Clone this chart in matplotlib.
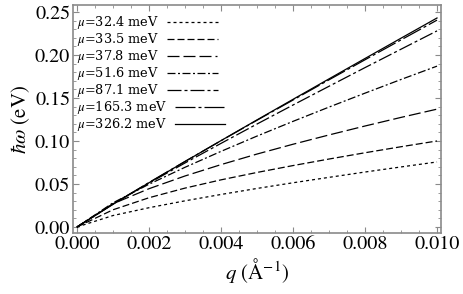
import matplotlib
matplotlib.use("Agg")
import matplotlib.pyplot as plt
from matplotlib.ticker import MultipleLocator

plt.rcParams['font.family'] = ['STIXGeneral', 'DejaVu Serif']
plt.rcParams['mathtext.fontset'] = 'stix'

# values (q in 1/Angstrom, hbar*omega in eV)
q = [0.0, 0.001, 0.002, 0.003, 0.004, 0.005, 0.006, 0.007, 0.008, 0.009, 0.010]
mu_labels = ['32.4', '33.5', '37.8', '51.6', '87.1', '165.3', '326.2']
w_32_4 = [0, 0.0133, 0.0224, 0.0304, 0.0378, 0.0448, 0.0514, 0.0577, 0.0639, 0.0698, 0.0756]
w_33_5 = [0, 0.0200, 0.0340, 0.0452, 0.0548, 0.0634, 0.0714, 0.0790, 0.0863, 0.0933, 0.1000]
w_37_8 = [0, 0.0270, 0.0445, 0.0593, 0.0725, 0.0848, 0.0962, 0.1070, 0.1174, 0.1274, 0.1370]
w_51_6 = [0, 0.0281, 0.0497, 0.0694, 0.0879, 0.1057, 0.1228, 0.1394, 0.1556, 0.1715, 0.1870]
w_87_1 = [0, 0.0268, 0.0510, 0.0744, 0.0972, 0.1197, 0.1418, 0.1636, 0.1853, 0.2067, 0.2280]
w_165_3 = [0, 0.0267, 0.0517, 0.0762, 0.1003, 0.1241, 0.1476, 0.1711, 0.1944, 0.2175, 0.2405]
w_326_2 = [0, 0.0263, 0.0514, 0.0761, 0.1004, 0.1245, 0.1484, 0.1722, 0.1959, 0.2195, 0.2430]

series = [w_32_4, w_33_5, w_37_8, w_51_6, w_87_1, w_165_3, w_326_2]
dashes = [(2.4, 2.4), (5.6, 2.4), (9.6, 3.2), (6.4, 2, 1.6, 2),
          (11.2, 2.4, 2.4, 2.4), (16, 2.4, 2.4, 2.4), ()]

fig = plt.figure(figsize=(4.63, 2.94), dpi=100)
ax = fig.add_axes([73/463, 1 - 233/294, (441 - 73)/463, (233 - 5)/294])

for lab, w, d in zip(mu_labels, series, dashes):
    line, = ax.plot(q, w, color='black', lw=0.9,
                    label=r'$\mu$=' + lab + ' meV')
    if d:
        line.set_dashes(d)

ax.set_xlim(-0.000111, 0.010111)
ax.set_ylim(-0.007, 0.2581)
ax.xaxis.set_major_locator(MultipleLocator(0.002))
ax.xaxis.set_minor_locator(MultipleLocator(0.0005))
ax.yaxis.set_major_locator(MultipleLocator(0.05))
ax.yaxis.set_minor_locator(MultipleLocator(0.01))
ax.xaxis.set_major_formatter(lambda v, p: f'{v:.3f}')
ax.yaxis.set_major_formatter(lambda v, p: f'{v:.2f}')

frame_col = '#8a8a8a'
for s in ax.spines.values():
    s.set_color(frame_col)
    s.set_linewidth(1.2)
ax.tick_params(which='both', direction='in', top=True, right=True,
               color=frame_col, labelsize=14.5, pad=2)
ax.tick_params(which='major', length=4, width=0.8)
ax.tick_params(which='minor', length=2, width=0.6)

ax.set_xlabel(r'$q$ (Å$^{-1}$)', fontsize=15, labelpad=2)
ax.set_ylabel(r'$\hbar\omega$ (eV)', fontsize=15, labelpad=2)

leg = ax.legend(loc='upper left', bbox_to_anchor=(0.012, 0.96),
                frameon=False, markerfirst=False,
                prop={'family': 'DejaVu Serif', 'size': 9.3},
                handlelength=3.9, handletextpad=0.6,
                labelspacing=0.0, borderaxespad=0.0, borderpad=0.0,
                handleheight=0.7)
# texts left aligned, like the reference
for col in leg._legend_handle_box.get_children():
    col.align = 'left'

fig.savefig('out.png', dpi=100)
